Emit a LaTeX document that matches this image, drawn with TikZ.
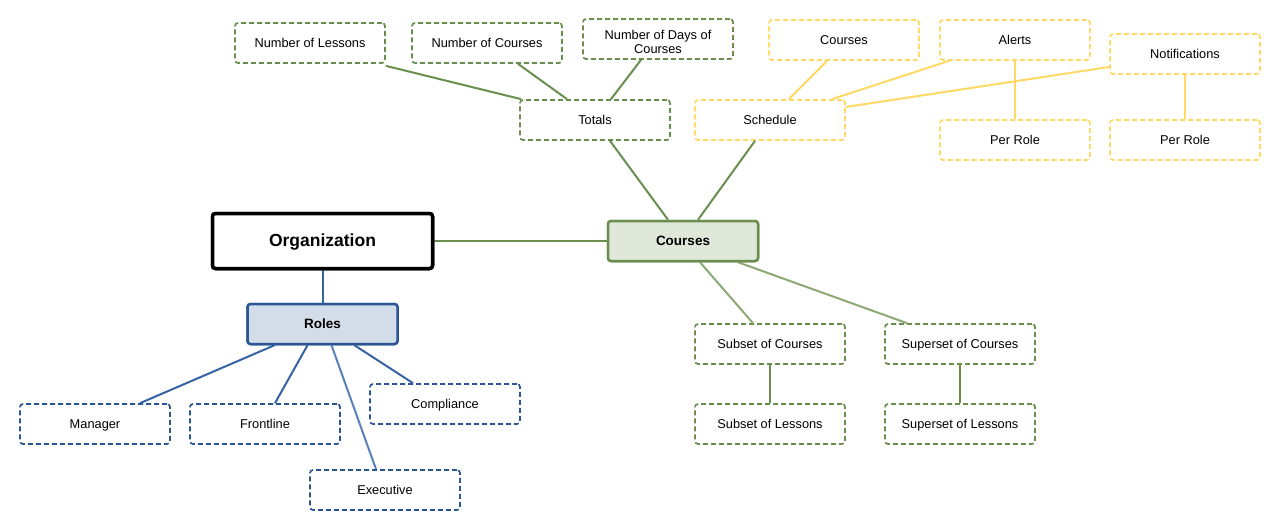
\documentclass[tikz,border=0pt]{standalone}
\usepackage{fontspec}
\setmainfont{Liberation Sans}
\definecolor{gstroke}{HTML}{6A8E4E}
\definecolor{gline}{HTML}{6A8E4E}
\definecolor{glight}{HTML}{8CA873}
\definecolor{gfill}{HTML}{E0E8DA}
\definecolor{bstroke}{HTML}{2A5794}
\definecolor{bline}{HTML}{3563A3}
\definecolor{blight}{HTML}{5A80B8}
\definecolor{bfill}{HTML}{D3DCE9}
\definecolor{ystroke}{HTML}{FFD966}
\tikzset{
  leaf/.style={draw, line width=1.7pt, dash pattern=on 5pt off 3pt, rounded corners=3pt,
    minimum width=150pt, minimum height=40pt, inner sep=0pt, fill=white,
    font=\fontsize{12.8}{13.5}\selectfont, align=center, text depth=0.5pt},
  gleaf/.style={leaf, draw=gstroke},
  bleaf/.style={leaf, draw=bstroke},
  yleaf/.style={leaf, draw=ystroke},
  hub/.style={draw, line width=2.5pt, rounded corners=3pt, minimum width=150pt, minimum height=40pt,
    inner sep=0pt, font=\fontsize{13.5}{15}\selectfont\bfseries, text depth=0.5pt},
  orgbox/.style={hub, draw=black, line width=3.5pt, fill=white, minimum width=220pt, minimum height=55pt,
    font=\fontsize{17.5}{19}\selectfont\bfseries, text depth=1pt},
  gl/.style={draw=gline, line width=2pt},
  gll/.style={draw=glight, line width=2pt},
  bl/.style={draw=bline, line width=2pt},
  bll/.style={draw=blight, line width=2pt},
  yl/.style={draw=ystroke, line width=2pt}
}
\begin{document}
\begin{tikzpicture}[x=1pt,y=-1pt]
\useasboundingbox (0,0) rectangle (1284,532);
% hubs
\node[orgbox] (org) at (322.5,241) {Organization};
\node[hub, draw=gstroke, fill=gfill] (courses) at (683,241) {Courses};
\node[hub, draw=bstroke, fill=bfill] (roles) at (322.5,324) {Roles};
% green leaves
\node[gleaf] (totals) at (595,120) {Totals};
\node[gleaf] (nles) at (310,43) {Number of Lessons};
\node[gleaf] (ncou) at (487,43) {Number of Courses};
\node[gleaf, text depth=] (ndays) at (658,39) {\raisebox{-6pt}[0pt][0pt]{\parbox{148pt}{\centering Number of Days of\\Courses}}};
\node[gleaf] (subc) at (770,344) {Subset of Courses};
\node[gleaf] (supc) at (960,344) {Superset of Courses};
\node[gleaf] (subl) at (770,424) {Subset of Lessons};
\node[gleaf] (supl) at (960,424) {Superset of Lessons};
% yellow leaves
\node[yleaf] (sched) at (770,120) {Schedule};
\node[yleaf] (ycou) at (844,40) {Courses};
\node[yleaf] (alerts) at (1015,40) {Alerts};
\node[yleaf] (notif) at (1185,54) {Notifications};
\node[yleaf] (pr1) at (1015,140) {Per Role};
\node[yleaf] (pr2) at (1185,140) {Per Role};
% blue leaves
\node[bleaf] (mgr) at (95,424) {Manager};
\node[bleaf] (front) at (265,424) {Frontline};
\node[bleaf] (comp) at (445,404) {Compliance};
\node[bleaf] (exec) at (385,490) {Executive};
% connectors
\draw[gl] (org.east) -- (courses.west);
\draw[bl] (org.south) -- (roles.north);
\draw[gl] ([xshift=-15pt]courses.north) -- ([xshift=15pt]totals.south);
\draw[gl] ([xshift=15pt]courses.north) -- ([xshift=-15pt]sched.south);
\draw[gl] ([yshift=-2pt]nles.south east) -- ([xshift=2pt]totals.north west);
\draw[gl] ([xshift=31pt]ncou.south) -- ([xshift=-28pt]totals.north);
\draw[gl] ([xshift=-17pt]ndays.south) -- ([xshift=16pt]totals.north);
\draw[yl] ([xshift=-17pt]ycou.south) -- ([xshift=19pt]sched.north);
\draw[yl] ([xshift=10pt]alerts.south west) -- ([xshift=62pt]sched.north);
\draw[yl] ([yshift=-13pt]notif.west) -- ([yshift=13pt]sched.east);
\draw[yl] (alerts.south) -- (pr1.north);
\draw[yl] (notif.south) -- (pr2.north);
\draw[gll] ([xshift=17pt]courses.south) -- ([xshift=-17pt]subc.north);
\draw[gll] ([xshift=55pt]courses.south) -- ([xshift=-53pt]supc.north);
\draw[gl] (subc.south) -- (subl.north);
\draw[gl] (supc.south) -- (supl.north);
\draw[bl] ([xshift=-48pt]roles.south) -- ([xshift=45pt]mgr.north);
\draw[bl] ([xshift=-15pt]roles.south) -- ([xshift=10pt]front.north);
\draw[bll] ([xshift=9pt]roles.south) -- ([xshift=-9pt]exec.north);
\draw[bl] ([xshift=32pt]roles.south) -- ([xshift=-32pt]comp.north);
% redraw hubs on top of connectors
\node[orgbox] at (org) {Organization};
\node[hub, draw=gstroke, fill=gfill] at (courses) {Courses};
\node[hub, draw=bstroke, fill=bfill] at (roles) {Roles};
\end{tikzpicture}
\end{document}
